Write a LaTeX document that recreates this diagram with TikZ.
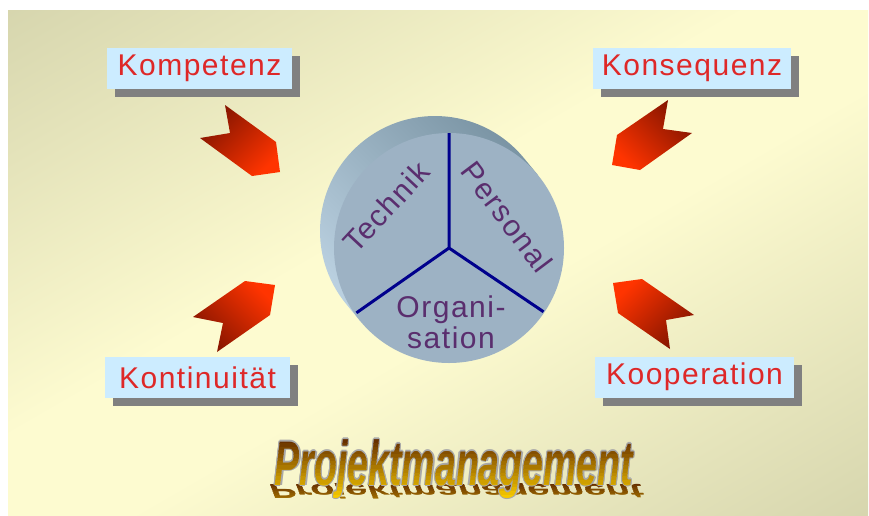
\documentclass[tikz,border=0pt]{standalone}
\usepackage{fontspec}
\usepackage{graphicx}
\usetikzlibrary{shadows}
\newfontfamily\labelfont{Liberation Sans}[LetterSpace=5]
\newfontfamily\titlefont{Liberation Sans}

\definecolor{bgolive}{RGB}{194,194,156}
\definecolor{bgpale}{RGB}{253,251,208}
\definecolor{boxblue}{RGB}{204,236,255}
\definecolor{shadowgray}{RGB}{128,128,128}
\definecolor{labelred}{RGB}{222,40,40}
\definecolor{facegray}{RGB}{157,178,196}
\definecolor{sidelight}{RGB}{186,208,224}
\definecolor{sidedark}{RGB}{122,148,164}
\definecolor{spokeblue}{RGB}{0,0,140}
\definecolor{pieviolet}{RGB}{90,46,110}
\definecolor{arrowdark}{RGB}{130,20,0}
\definecolor{arrowbright}{RGB}{255,52,0}
\definecolor{titlebrown}{RGB}{95,40,0}
\definecolor{titlegold}{RGB}{255,210,0}
\definecolor{outlinegray}{RGB}{168,168,168}

\pgfdeclareverticalshading{bgshade}{100bp}{color(0bp)=(bgolive); color(45bp)=(bgpale); color(55bp)=(bgpale); color(100bp)=(bgolive)}

\newcommand\projtitle{\scalebox{0.595}[1]{\titlefont\bfseries\itshape\fontsize{63}{70}\selectfont Projektmanagement}}
\newcommand\projmirror{\scalebox{0.62}[-0.32]{\titlefont\bfseries\itshape\fontsize{63}{70}\selectfont Projektmanagement}}

\tikzset{
  keybox/.style={fill=boxblue, text=labelred, font=\labelfont\fontsize{30}{32}\selectfont,
    minimum height=41pt, inner sep=0pt,
    drop shadow={shadow xshift=8pt, shadow yshift=-8pt, fill=shadowgray, opacity=1}},
  pietext/.style={text=pieviolet, font=\labelfont\fontsize{30}{31}\selectfont, inner sep=0pt},
  spoke/.style={spokeblue, line width=3pt},
  chevron/.style={top color=arrowdark, bottom color=arrowbright},
  titlenode/.style={anchor=base, inner sep=0pt},
}

\begin{document}
\begin{tikzpicture}[x=1pt, y=-1pt]
\useasboundingbox (0,0) rectangle (869,515);
% background
\shade[shading=bgshade, shading angle=30] (8,10) rectangle (868,515);

% arrows pointing at the disc
\shade[chevron, shading angle=45] (225,105) -- (276,142) -- (280,172) -- (252,176) -- (200,138) -- (230,133) -- cycle;
\shade[chevron, shading angle=-45] (668,100) -- (663,129) -- (692,133) -- (640,170) -- (612,165) -- (617,135) -- cycle;
\shade[chevron, shading angle=135] (275,285) -- (270,315) -- (217,352) -- (223,323) -- (193,317) -- (245,281) -- cycle;
\shade[chevron, shading angle=-135] (613,283) -- (642,279) -- (694,315) -- (666,320) -- (670,349) -- (618,313) -- cycle;

% disc
\begin{scope}[shift={(449,248)}, y=1pt]
\coordinate (hub) at (0,0);
\shade[top color=sidedark, bottom color=sidelight, shading angle=-45]
  (39.5:115) -- ++(-14,17) arc[start angle=39.5, end angle=219.5, radius=115] -- (219.5:115) -- cycle;
\fill[facegray] (hub) circle (115);
\coordinate (rimtop) at (90:115);
\coordinate (rimleft) at (215:113);
\coordinate (rimright) at (-34:114);
\draw[spoke] (hub) -- (rimtop) (hub) -- (rimleft) (hub) -- (rimright);
\node[pietext, rotate=47] (technik) at (-63,41) {Technik};
\node[pietext, rotate=-53] (personal) at (58,31) {Personal};
\node[pietext, align=center] (organisation) at (2,-74) {Organi-\\sation};
\end{scope}

% keywords
\node[keybox, minimum width=185pt] (kompetenz) at (199.5,68.5) {Kompetenz};
\node[keybox, minimum width=198pt] (konsequenz) at (692,68.5) {Konsequenz};
\node[keybox, minimum width=185pt] (kontinuitaet) at (197.5,377.5) {Kontinuität};
\node[keybox, minimum width=199pt] (kooperation) at (694.5,377) {Kooperation};

% title with mirror image
\foreach \i in {0,...,9} {
  \pgfmathsetmacro\ya{483+2*\i}
  \pgfmathtruncatemacro\mixamt{5+5*\i}
  \begin{scope}
    \clip (250,\ya) rectangle (660,\ya+2.2);
    \node[titlenode, text=titlegold!\mixamt!titlebrown] (mirror) at (456,484) {\projmirror};
  \end{scope}
}
\foreach \dx/\dy in {-1.2/0,1.2/0,0/-1.2,0/1.2,-0.9/-0.9,0.9/0.9,-0.9/0.9,0.9/-0.9}
  \node[titlenode, text=outlinegray] (outline) at (454+\dx,485+\dy) {\projtitle};
\foreach \i in {0,...,17} {
  \pgfmathsetmacro\ya{436+3.7*\i}
  \pgfmathtruncatemacro\mixamt{100*\i/17}
  \begin{scope}
    \clip (250,\ya) rectangle (660,\ya+3.9);
    \node[titlenode, text=titlegold!\mixamt!titlebrown] (title) at (454,485) {\projtitle};
  \end{scope}
}
\end{tikzpicture}
\end{document}
